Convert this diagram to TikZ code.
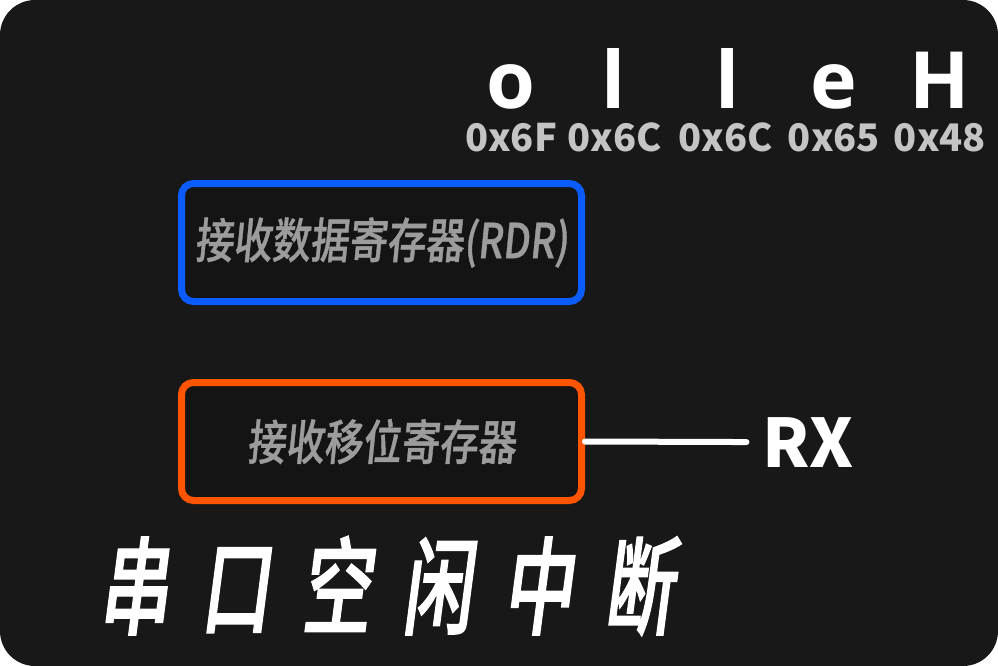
\documentclass[tikz,border=0pt]{standalone}
\usepackage{fontspec}
\newfontfamily\cjkreg[FakeSlant=0.1,FakeStretch=0.8,FakeBold=0.8,UprightFont={* Medium}]{Noto Sans CJK SC}
\newfontfamily\cjktitle[FakeSlant=0.13,FakeStretch=0.66,FakeBold=1.2,UprightFont={* Medium}]{Noto Sans CJK SC}
\newfontfamily\cjkplain{Noto Sans CJK SC}
\newfontfamily\latfont{Open Sans}
\definecolor{bgc}{HTML}{181818}
\definecolor{boxc}{HTML}{141414}
\definecolor{blueb}{HTML}{0B5CFF}
\definecolor{orangeb}{HTML}{FF5500}
\definecolor{greyt}{HTML}{9C9C9C}
\definecolor{hexc}{HTML}{C4C4C4}
\tikzset{
  regbox/.style={draw=#1, line width=7pt, rounded corners=12pt, fill=boxc,
    minimum width=400pt, minimum height=118pt, inner sep=0pt,
    text=greyt, font=\cjkreg\fontsize{48}{48}\selectfont},
  letter/.style={anchor=base, inner sep=0pt, text=white,
    font=\latfont\bfseries\fontsize{79}{79}\selectfont},
  hexlabel/.style={anchor=base, inner sep=0pt, text=hexc,
    font=\cjkplain\bfseries\fontsize{38}{38}\selectfont},
  wire/.style={draw=white, line width=6pt, line cap=round}
}
\begin{document}
\begin{tikzpicture}[x=1pt,y=-1pt]
\useasboundingbox (0,0) rectangle (998,666);
\fill[white] (0,0) rectangle (998,666);
\fill[bgc, rounded corners=35pt] (0,0) rectangle (998,666);

% letters
\node[letter] (lo) at (511,109) {o};
\node[letter] (ll1) at (614,109) {l};
\node[letter] (ll2) at (728,109) {l};
\node[letter] (le) at (834,109) {e};
\node[letter] (lh) at (940,109) {H};
\node[hexlabel] (ho) at (511,151) {0x6F};
\node[hexlabel] (hl1) at (615,151) {0x6C};
\node[hexlabel] (hl2) at (726,151) {0x6C};
\node[hexlabel] (he) at (834,151) {0x65};
\node[hexlabel] (hh) at (940,151) {0x48};

% registers
\node[regbox=blueb] (rdr) at (381.5,242.5) {接收数据寄存器(RDR)};
\node[regbox=orangeb] (shift) at (381.5,441.5) {接收移位寄存器};

% RX
\node[anchor=base, inner sep=0pt, text=white,
  font=\cjkplain\bfseries\fontsize{67}{67}\selectfont] (rx) at (808,467) {RX};
\draw[wire] (shift.east) -- ([xshift=-16pt]rx.west);

% title
\node[inner sep=0pt, text=white,
  font=\cjktitle\fontsize{106}{106}\selectfont] (title) at (386,586)
  {串\kern31pt 口\kern31pt 空\kern31pt 闲\kern31pt 中\kern31pt 断};
\end{tikzpicture}
\end{document}
